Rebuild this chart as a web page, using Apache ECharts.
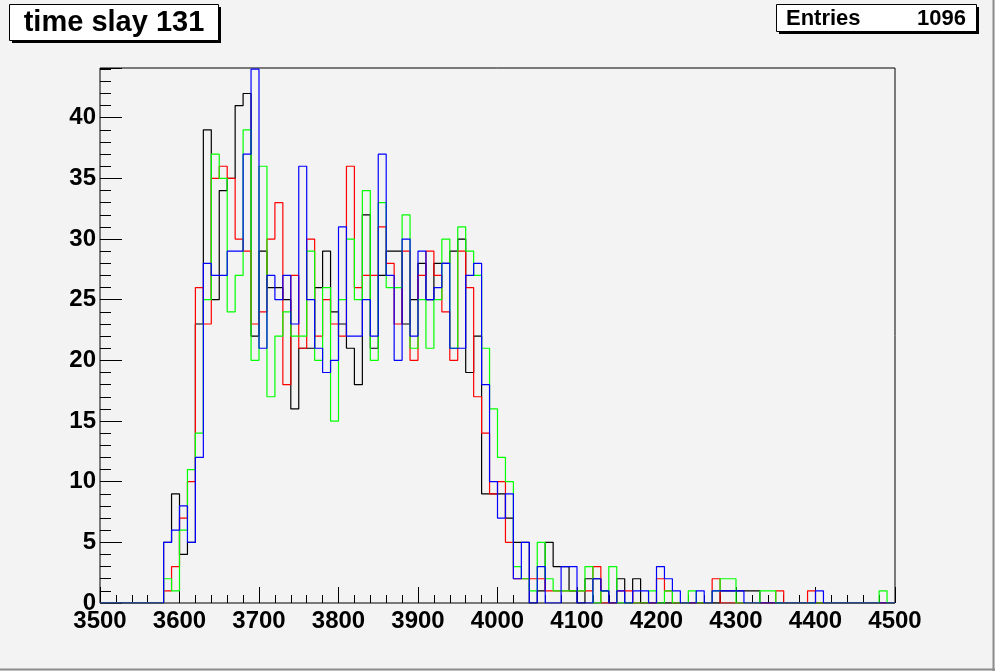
<!DOCTYPE html>
<html><head><meta charset="utf-8">
<script src="https://cdn.jsdelivr.net/npm/echarts@6/dist/echarts.min.js"></script>
<style>html,body{margin:0;padding:0;background:#f3f3f3}#c{width:995px;height:671px}</style>
</head><body><div id="c"></div>
<script>
// Histogram binning (100 bins of width 10 from 3500 to 4500)
const binStart = 3500;
const binWidth = 10;
const xTickValues = [3500,3600,3700,3800,3900,4000,4100,4200,4300,4400,4500];
const yTickValues = [0,5,10,15,20,25,30,35,40];
const titleText = 'time slay 131';
const statsLabel = 'Entries';
const statsValue = '1096';

// counts per bin, bins 3500..4490
const blackCounts = [
 0,0,0,0,0,0,0,0,5,9,
 4,5,23,39,25,34,35,41,42,22,
 29,26,26,25,16,21,21,26,29,24,
 23,21,18,32,21,27,29,29,23,25,
 28,25,28,28,29,30,19,22,9,9,
 9,7,5,5,0,1,5,3,3,1,
 0,2,2,1,0,2,0,2,0,0,
 0,0,0,0,0,0,0,0,1,1,
 1,1,1,0,0,0,0,0,0,0,
 0,0,0,0,0,0,0,0,0,0];
const redCounts = [
 0,0,0,0,0,0,0,0,1,3,
 7,10,26,23,35,36,35,30,29,23,
 24,30,33,18,27,21,30,22,25,23,
 22,36,26,27,27,31,28,23,29,20,
 27,29,27,24,20,29,26,17,14,9,
 10,5,2,2,2,2,1,1,1,1,
 1,1,3,0,0,1,1,0,0,0,
 2,1,0,0,0,0,0,2,0,0,
 0,0,0,0,0,1,0,0,0,1,
 0,0,0,0,0,0,0,0,0,0];
const greenCounts = [
 0,0,0,0,0,0,0,0,2,1,
 6,11,14,25,37,35,24,27,39,20,
 36,17,22,24,22,22,29,20,26,15,
 25,30,25,34,20,33,26,26,32,21,
 25,21,25,30,21,31,29,27,21,16,
 12,10,3,2,1,5,2,1,1,1,
 1,3,0,1,3,0,0,0,0,1,
 0,1,0,0,1,0,0,1,2,2,
 0,0,0,1,1,0,0,0,0,0,
 0,0,0,0,0,0,0,0,1,0];
const blueCounts = [
 0,0,0,0,0,0,0,0,5,6,
 8,5,12,28,27,27,29,29,37,44,
 21,27,25,27,23,36,25,21,19,20,
 31,22,22,25,22,37,27,20,30,22,
 29,25,26,28,21,21,27,28,18,10,
 7,9,2,5,0,3,0,0,3,3,
 0,0,2,1,0,1,0,1,1,0,
 3,2,1,0,0,1,0,1,1,1,
 1,0,0,0,0,0,0,0,0,0,
 1,0,0,0,0,0,0,0,0,0];

function toSteps(vals){
  const pts = vals.map((v,i)=>[binStart + i*binWidth, v]);
  pts.push([binStart + vals.length*binWidth, vals[vals.length-1]]);
  return pts;
}
const FONT = "'Liberation Sans', Arial, Helvetica, sans-serif";
const chart = echarts.init(document.getElementById('c'), null, {renderer:'canvas'});
function mkSeries(name, vals, color){
  return {name, type:'line', step:'end', data:toSteps(vals), symbol:'none',
    lineStyle:{color, width:1.2}, itemStyle:{color}, clip:true, silent:true};
}
chart.setOption({
  animation:false,
  backgroundColor:'#f3f3f3',
  grid:{left:100,right:100,top:68,bottom:68,show:true,borderColor:'#000',borderWidth:1,
        backgroundColor:'transparent',containLabel:false,outerBoundsMode:'none'},
  xAxis:{type:'value',min:xTickValues[0],max:xTickValues[xTickValues.length-1],interval:100,
    axisLine:{show:false},
    axisTick:{show:true,inside:true,length:16,lineStyle:{color:'#000',width:1}},
    minorTick:{show:true,splitNumber:5,length:8,lineStyle:{color:'#000',width:1}},
    splitLine:{show:false},minorSplitLine:{show:false},
    axisLabel:{color:'#000',fontFamily:FONT,fontWeight:'bold',fontSize:24,margin:6,
      formatter:v=> xTickValues.includes(v)?String(v):''}},
  yAxis:{type:'value',min:0,max:44.1,interval:5,
    axisLine:{show:false},
    axisTick:{show:true,inside:true,length:22,lineStyle:{color:'#000',width:1}},
    minorTick:{show:true,splitNumber:5,length:11,lineStyle:{color:'#000',width:1}},
    splitLine:{show:false},minorSplitLine:{show:false},
    axisLabel:{color:'#000',fontFamily:FONT,fontWeight:'bold',fontSize:24,margin:4,showMaxLabel:false,
      formatter:v=> yTickValues.includes(v)?String(v):''}},
  series:[
    mkSeries('black',blackCounts,'#000000'),
    mkSeries('red',redCounts,'#ff0000'),
    mkSeries('green',greenCounts,'#00ff00'),
    mkSeries('blue',blueCounts,'#0000ff')
  ],
  graphic:[
    {type:'line',shape:{x1:993.5,y1:0,x2:993.5,y2:671},style:{stroke:'#8c8c8c',lineWidth:2},silent:true},
    {type:'line',shape:{x1:0,y1:669.5,x2:995,y2:669.5},style:{stroke:'#8c8c8c',lineWidth:2},silent:true},
    {type:'rect',shape:{x:12,y:7,width:209,height:36},style:{fill:'#000'},silent:true},
    {type:'rect',shape:{x:9.5,y:4.5,width:209,height:36},style:{fill:'#ffffff',stroke:'#000',lineWidth:1},silent:true},
    {type:'text',style:{x:114,y:23,text:titleText,fill:'#000',font:"bold 29px "+FONT,align:'center',verticalAlign:'middle'},silent:true},
    {type:'rect',shape:{x:779,y:7,width:200,height:27},style:{fill:'#000'},silent:true},
    {type:'rect',shape:{x:776.5,y:4.5,width:200,height:27},style:{fill:'#ffffff',stroke:'#000',lineWidth:1},silent:true},
    {type:'text',style:{x:786,y:19,text:statsLabel,fill:'#000',font:"bold 22px "+FONT,align:'left',verticalAlign:'middle'},silent:true},
    {type:'text',style:{x:966,y:19,text:statsValue,fill:'#000',font:"bold 22px "+FONT,align:'right',verticalAlign:'middle'},silent:true}
  ]
});
</script></body></html>
